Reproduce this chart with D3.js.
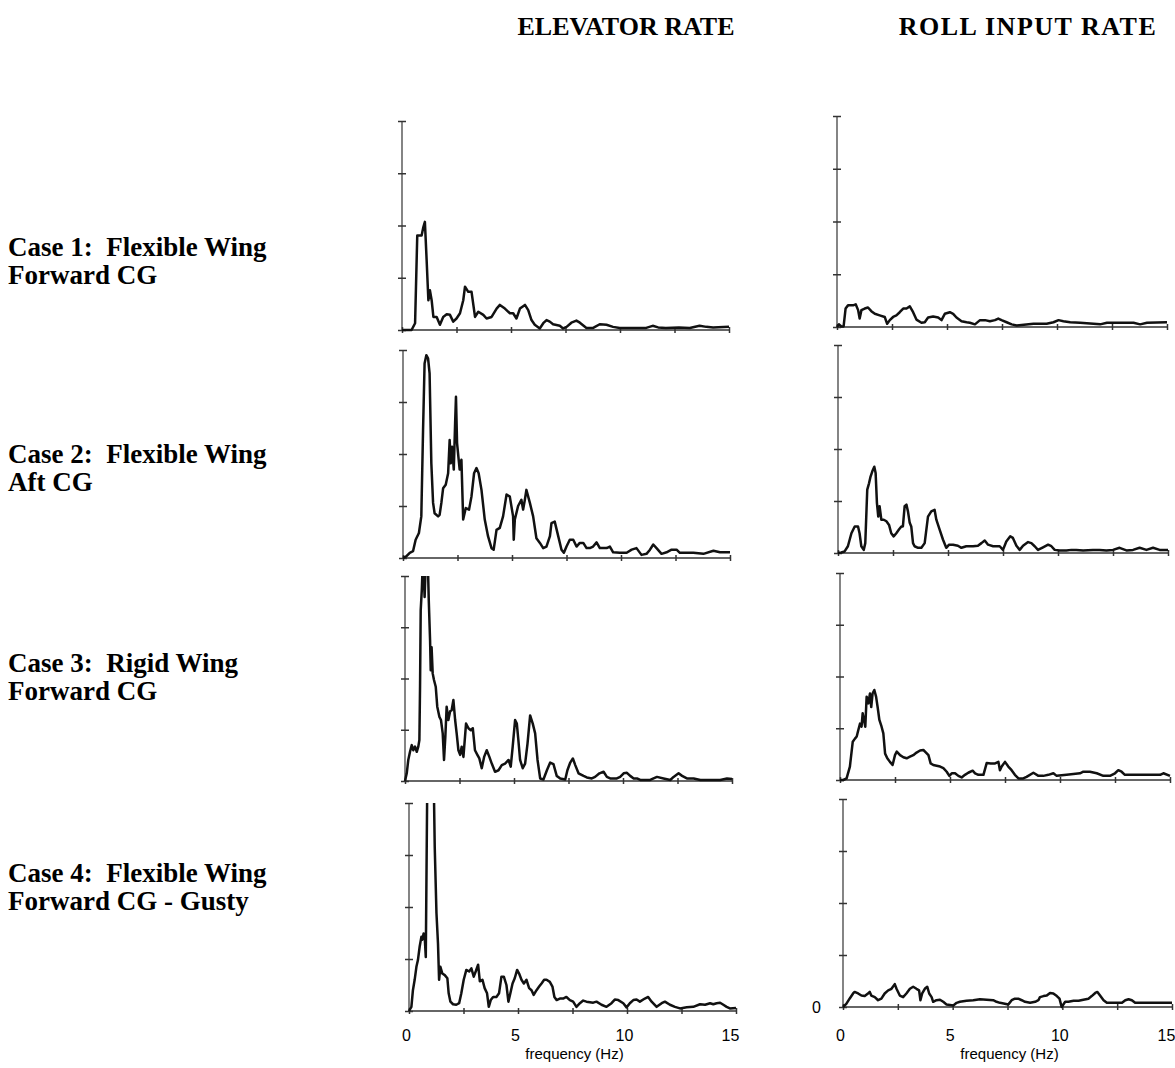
<!DOCTYPE html>
<html>
<head>
<meta charset="utf-8">
<script src="https://cdn.jsdelivr.net/npm/d3@7/dist/d3.min.js"></script>
<style>
  body { margin: 0; background: #fff; }
  .title { font-family: "Liberation Serif", "Times New Roman", serif; font-weight: bold; }
  .axis path, .axis line { stroke: #333; }
  .axis text { font-family: "Liberation Sans", Arial, sans-serif; fill: #000; }
</style>
</head>
<body>
<svg id="chart" width="1175" height="1068"></svg>
<script>
// x ticks (Hz) and y levels (arbitrary units, 4 divisions)
var freqTicks = [0, 2.5, 5, 7.5, 10, 12.5, 15];
var freqLabels = [0, 5, 10, 15];
var levelTicks = [0, 1, 2, 3, 4];
var columnTitles = ["ELEVATOR RATE", "ROLL INPUT RATE"];
var caseLabels = [
  ["Case 1:  Flexible Wing", "Forward CG"],
  ["Case 2:  Flexible Wing", "Aft CG"],
  ["Case 3:  Rigid Wing", "Forward CG"],
  ["Case 4:  Flexible Wing", "Forward CG - Gusty"]
];

// spectra: [frequency Hz, level]
var case1Elevator = [[0,0],[0.44,0],[0.6,0.13],[0.7,1.81],[0.9,1.81],[0.98,1.97],[1.05,2.07],[1.13,1.34],[1.21,0.57],[1.28,0.76],[1.36,0.57],[1.44,0.25],[1.59,0.25],[1.74,0.1],[1.89,0.25],[2.05,0.3],[2.2,0.29],[2.35,0.16],[2.5,0.22],[2.66,0.32],[2.81,0.57],[2.89,0.83],[3.04,0.73],[3.19,0.73],[3.35,0.25],[3.5,0.35],[3.73,0.29],[3.88,0.22],[4.11,0.25],[4.34,0.41],[4.49,0.48],[4.72,0.41],[4.95,0.32],[5.1,0.32],[5.25,0.22],[5.41,0.41],[5.64,0.48],[5.79,0.38],[5.94,0.19],[6.09,0.1],[6.32,0.03],[6.48,0.13],[6.63,0.19],[6.78,0.16],[6.93,0.11],[7.24,0.08],[7.39,0.03],[7.55,0.06],[7.77,0.14],[8.0,0.18],[8.16,0.14],[8.46,0.04],[8.77,0.04],[9.07,0.11],[9.38,0.1],[9.68,0.06],[9.99,0.04],[11.2,0.04],[11.5,0.08],[11.75,0.05],[12.1,0.04],[12.7,0.05],[13.2,0.04],[13.65,0.08],[13.96,0.06],[14.27,0.05],[15,0.06]];
var case1Roll = [[0,0],[0.09,0.05],[0.2,0.01],[0.3,0.01],[0.39,0.35],[0.5,0.41],[0.73,0.41],[0.85,0.43],[0.96,0.32],[1.03,0.16],[1.11,0.32],[1.26,0.35],[1.41,0.37],[1.56,0.3],[1.72,0.25],[1.94,0.22],[2.17,0.19],[2.28,0.06],[2.4,0.13],[2.55,0.19],[2.7,0.22],[2.85,0.28],[3.01,0.35],[3.16,0.35],[3.31,0.39],[3.46,0.28],[3.61,0.14],[3.84,0.08],[3.99,0.09],[4.14,0.18],[4.37,0.2],[4.6,0.18],[4.75,0.13],[4.9,0.25],[5.13,0.28],[5.28,0.25],[5.43,0.18],[5.66,0.11],[5.89,0.09],[6.04,0.08],[6.27,0.05],[6.5,0.13],[6.73,0.13],[6.95,0.11],[7.18,0.13],[7.33,0.16],[7.48,0.13],[7.71,0.09],[7.94,0.05],[8.17,0.03],[8.93,0.06],[9.53,0.06],[9.84,0.09],[10.07,0.13],[10.29,0.11],[10.6,0.09],[11.05,0.08],[11.96,0.05],[12.27,0.08],[12.87,0.08],[13.48,0.08],[13.78,0.05],[14.09,0.08],[15,0.09]];
var case2Elevator = [[0,0],[0.15,0.03],[0.31,0.1],[0.46,0.13],[0.58,0.35],[0.73,0.48],[0.84,0.8],[0.92,2.46],[0.99,3.74],[1.07,3.9],[1.15,3.84],[1.22,3.55],[1.3,1.82],[1.38,1.06],[1.45,0.86],[1.61,0.8],[1.68,0.83],[1.76,1.06],[1.84,1.34],[1.96,1.41],[2.07,1.63],[2.14,2.27],[2.19,1.82],[2.25,2.14],[2.33,1.7],[2.39,2.59],[2.43,3.1],[2.48,2.21],[2.54,1.95],[2.6,1.7],[2.68,1.89],[2.76,0.74],[2.88,0.96],[3.03,0.93],[3.14,1.18],[3.26,1.63],[3.37,1.73],[3.47,1.63],[3.6,1.31],[3.75,0.74],[3.9,0.42],[4.06,0.19],[4.16,0.16],[4.29,0.54],[4.44,0.58],[4.59,0.8],[4.75,1.22],[4.9,1.18],[5.05,0.8],[5.08,0.35],[5.13,0.74],[5.28,1.0],[5.43,1.12],[5.51,0.93],[5.59,1.12],[5.66,1.31],[5.82,1.06],[5.97,0.8],[6.12,0.38],[6.28,0.29],[6.43,0.19],[6.58,0.22],[6.74,0.42],[6.81,0.67],[6.96,0.7],[7.12,0.42],[7.27,0.16],[7.38,0.1],[7.5,0.22],[7.65,0.35],[7.81,0.35],[7.96,0.22],[8.11,0.29],[8.27,0.29],[8.42,0.19],[8.57,0.19],[8.72,0.22],[8.88,0.3],[9.03,0.19],[9.34,0.19],[9.49,0.22],[9.64,0.11],[9.95,0.1],[10.26,0.1],[10.49,0.16],[10.71,0.19],[10.94,0.06],[11.17,0.08],[11.33,0.16],[11.48,0.26],[11.63,0.19],[11.86,0.08],[12.09,0.11],[12.32,0.16],[12.55,0.16],[12.7,0.1],[13.32,0.1],[13.78,0.08],[14.24,0.14],[14.54,0.11],[15,0.11]];
var case2Roll = [[0,0],[0.15,0.01],[0.3,0.03],[0.45,0.13],[0.61,0.38],[0.76,0.51],[0.91,0.51],[0.98,0.38],[1.06,0.13],[1.17,0.06],[1.24,0.19],[1.33,1.22],[1.41,1.34],[1.48,1.47],[1.56,1.57],[1.65,1.66],[1.71,1.54],[1.77,0.96],[1.83,0.7],[1.89,0.9],[1.97,0.64],[2.08,0.64],[2.2,0.61],[2.32,0.54],[2.42,0.38],[2.53,0.32],[2.65,0.38],[2.77,0.45],[2.88,0.51],[2.95,0.51],[3.03,0.9],[3.11,0.93],[3.18,0.8],[3.26,0.58],[3.33,0.51],[3.41,0.19],[3.48,0.13],[3.64,0.1],[3.79,0.1],[3.94,0.19],[4.09,0.7],[4.24,0.8],[4.39,0.83],[4.47,0.64],[4.62,0.45],[4.77,0.26],[4.92,0.1],[5.05,0.16],[5.23,0.16],[5.45,0.14],[5.61,0.1],[5.83,0.13],[6.14,0.13],[6.36,0.14],[6.52,0.19],[6.67,0.24],[6.82,0.16],[7.05,0.13],[7.35,0.13],[7.5,0.06],[7.65,0.22],[7.83,0.32],[7.95,0.29],[8.11,0.14],[8.26,0.06],[8.41,0.14],[8.64,0.21],[8.79,0.19],[8.94,0.13],[9.09,0.06],[9.32,0.11],[9.55,0.16],[9.7,0.13],[9.85,0.06],[10.08,0.05],[10.38,0.05],[10.61,0.06],[10.83,0.06],[11.14,0.05],[11.59,0.06],[11.89,0.06],[12.2,0.05],[12.5,0.06],[12.8,0.1],[13.11,0.05],[13.41,0.06],[13.71,0.1],[14.02,0.06],[14.32,0.1],[14.62,0.06],[15,0.06]];
var case3Elevator = [[0,0],[0.08,0.15],[0.15,0.41],[0.23,0.57],[0.31,0.7],[0.38,0.6],[0.46,0.67],[0.54,0.57],[0.61,0.67],[0.66,0.8],[0.69,1.84],[0.72,3.33],[0.77,3.72],[0.81,4.2],[0.87,3.92],[0.9,3.59],[0.95,4.2],[0.99,4.4],[1.04,4.4],[1.09,3.53],[1.15,2.75],[1.18,2.16],[1.22,2.61],[1.27,2.1],[1.33,1.97],[1.41,1.84],[1.48,1.45],[1.58,1.25],[1.65,1.19],[1.73,0.93],[1.79,0.41],[1.85,0.86],[1.91,1.45],[1.99,1.19],[2.07,1.36],[2.14,1.38],[2.22,1.58],[2.3,1.19],[2.37,0.93],[2.45,0.6],[2.53,0.51],[2.6,0.67],[2.68,0.47],[2.8,1.12],[2.91,1.03],[3.02,0.99],[3.11,1.03],[3.21,0.6],[3.32,0.51],[3.41,0.44],[3.52,0.25],[3.63,0.47],[3.75,0.6],[3.87,0.47],[3.98,0.34],[4.13,0.18],[4.29,0.21],[4.44,0.31],[4.59,0.34],[4.75,0.41],[4.85,0.28],[4.94,0.67],[5.05,1.19],[5.13,1.12],[5.2,0.8],[5.28,0.41],[5.4,0.25],[5.51,0.34],[5.62,0.73],[5.74,1.28],[5.86,1.12],[5.97,0.93],[6.08,0.41],[6.2,0.05],[6.35,0.03],[6.51,0.21],[6.66,0.36],[6.81,0.33],[6.96,0.1],[7.12,0.05],[7.35,0.03],[7.45,0.21],[7.58,0.36],[7.7,0.44],[7.81,0.31],[7.96,0.15],[8.19,0.1],[8.34,0.07],[8.57,0.05],[8.72,0.08],[8.92,0.15],[9.11,0.18],[9.26,0.08],[9.41,0.05],[9.72,0.05],[9.87,0.08],[10.03,0.15],[10.18,0.16],[10.33,0.1],[10.49,0.05],[10.64,0.05],[10.79,0.02],[11.25,0.02],[11.4,0.05],[11.56,0.08],[11.86,0.05],[12.17,0.02],[12.32,0.08],[12.55,0.15],[12.71,0.1],[12.93,0.05],[13.24,0.05],[13.55,0.02],[14.46,0.02],[14.77,0.05],[15,0.04]];
var case3Roll = [[0,0],[0.15,0],[0.3,0.03],[0.45,0.26],[0.58,0.74],[0.68,0.8],[0.76,0.84],[0.83,0.96],[0.91,1.09],[0.98,1.03],[1.03,1.29],[1.09,1.16],[1.15,1.03],[1.21,1.61],[1.29,1.48],[1.36,1.67],[1.42,1.41],[1.48,1.67],[1.56,1.74],[1.64,1.61],[1.71,1.41],[1.79,1.16],[1.89,1.03],[1.97,0.9],[2.05,0.51],[2.15,0.42],[2.27,0.35],[2.39,0.29],[2.5,0.48],[2.58,0.55],[2.73,0.48],[2.88,0.44],[3.03,0.42],[3.18,0.45],[3.33,0.48],[3.48,0.53],[3.64,0.57],[3.79,0.58],[3.91,0.53],[4.02,0.48],[4.12,0.32],[4.24,0.29],[4.55,0.26],[4.7,0.23],[4.85,0.16],[4.97,0.08],[5.08,0.13],[5.23,0.13],[5.38,0.08],[5.53,0.05],[5.68,0.1],[5.83,0.14],[6.03,0.18],[6.14,0.13],[6.29,0.1],[6.52,0.1],[6.67,0.33],[6.85,0.32],[7.05,0.32],[7.2,0.35],[7.27,0.19],[7.35,0.26],[7.5,0.35],[7.65,0.26],[7.8,0.19],[7.95,0.1],[8.11,0.03],[8.33,0.03],[8.48,0.06],[8.79,0.14],[9.02,0.08],[9.24,0.08],[9.47,0.1],[9.7,0.13],[9.85,0.08],[10.3,0.1],[10.91,0.13],[11.06,0.16],[11.36,0.16],[11.67,0.13],[11.97,0.08],[12.27,0.08],[12.5,0.13],[12.65,0.19],[12.8,0.16],[12.95,0.1],[13.33,0.1],[14.55,0.1],[14.7,0.13],[15,0.08]];
var case4Elevator = [[0,0],[0.11,0.08],[0.18,0.4],[0.26,0.6],[0.34,0.85],[0.41,0.98],[0.49,1.24],[0.57,1.43],[0.61,1.37],[0.67,1.49],[0.72,1.43],[0.77,1.04],[0.8,2.52],[0.83,4.0],[0.87,6.0],[0.95,8.0],[1.03,8.5],[1.1,6.5],[1.15,4.0],[1.18,3.16],[1.26,1.88],[1.33,1.3],[1.38,0.6],[1.44,0.85],[1.53,0.72],[1.64,0.69],[1.76,0.63],[1.82,0.34],[1.9,0.18],[2.02,0.13],[2.17,0.12],[2.3,0.15],[2.4,0.34],[2.51,0.6],[2.63,0.79],[2.76,0.76],[2.86,0.82],[2.97,0.66],[3.06,0.76],[3.17,0.89],[3.25,0.57],[3.37,0.6],[3.47,0.44],[3.58,0.34],[3.66,0.08],[3.75,0.21],[3.86,0.27],[4.01,0.27],[4.13,0.34],[4.24,0.66],[4.35,0.66],[4.47,0.5],[4.56,0.18],[4.65,0.34],[4.75,0.53],[4.85,0.63],[4.96,0.79],[5.05,0.72],[5.16,0.6],[5.27,0.53],[5.39,0.6],[5.51,0.44],[5.62,0.4],[5.72,0.31],[5.85,0.4],[5.97,0.47],[6.08,0.53],[6.2,0.6],[6.31,0.6],[6.46,0.56],[6.58,0.47],[6.67,0.27],[6.77,0.21],[6.92,0.24],[7.07,0.24],[7.22,0.27],[7.38,0.21],[7.53,0.18],[7.68,0.08],[7.84,0.15],[7.99,0.2],[8.14,0.18],[8.45,0.16],[8.6,0.18],[8.83,0.12],[9.06,0.08],[9.29,0.15],[9.44,0.22],[9.6,0.21],[9.83,0.15],[9.98,0.07],[10.13,0.15],[10.29,0.21],[10.44,0.22],[10.59,0.18],[10.82,0.24],[10.97,0.27],[11.13,0.18],[11.36,0.08],[11.59,0.15],[11.74,0.18],[11.97,0.12],[12.2,0.08],[12.43,0.05],[12.74,0.07],[13.04,0.08],[13.35,0.13],[13.58,0.12],[13.81,0.15],[13.96,0.13],[14.11,0.15],[14.27,0.16],[14.42,0.12],[14.57,0.08],[14.72,0.05],[15,0.06]];
var case4Roll = [[0,0],[0.15,0.06],[0.3,0.16],[0.46,0.26],[0.53,0.29],[0.69,0.26],[0.84,0.22],[0.99,0.21],[1.14,0.26],[1.22,0.29],[1.29,0.22],[1.45,0.19],[1.6,0.13],[1.75,0.16],[1.9,0.26],[2.06,0.32],[2.21,0.35],[2.36,0.44],[2.44,0.35],[2.59,0.22],[2.74,0.19],[2.89,0.26],[3.05,0.35],[3.2,0.39],[3.35,0.35],[3.47,0.32],[3.53,0.13],[3.61,0.26],[3.73,0.35],[3.84,0.39],[3.93,0.26],[4.04,0.19],[4.11,0.1],[4.26,0.13],[4.42,0.14],[4.57,0.1],[4.72,0.05],[5.03,0.03],[5.18,0.08],[5.33,0.1],[5.63,0.12],[5.94,0.13],[6.24,0.15],[6.55,0.14],[6.85,0.13],[7.0,0.1],[7.16,0.08],[7.54,0.05],[7.69,0.13],[7.84,0.16],[7.99,0.16],[8.15,0.13],[8.3,0.1],[8.53,0.08],[8.76,0.1],[8.91,0.13],[8.98,0.19],[9.14,0.21],[9.29,0.22],[9.44,0.27],[9.59,0.26],[9.75,0.21],[9.87,0.16],[9.97,0.0],[10.13,0.1],[10.28,0.1],[10.51,0.12],[10.74,0.12],[10.96,0.14],[11.19,0.16],[11.34,0.21],[11.5,0.27],[11.6,0.29],[11.72,0.22],[11.88,0.13],[12.03,0.08],[12.49,0.08],[12.72,0.08],[12.87,0.13],[13.02,0.15],[13.17,0.13],[13.32,0.08],[15,0.08]];

var series = [
  [case1Elevator, case1Roll],
  [case2Elevator, case2Roll],
  [case3Elevator, case3Roll],
  [case4Elevator, case4Roll]
];

// panel boxes as they sit on the page (the scan is a little skewed)
var boxes = [
  [{x0: 402, x1: 729, y0: 121, y1: 330}, {x0: 837, x1: 1167, y0: 116, y1: 327}],
  [{x0: 403, x1: 730, y0: 350, y1: 558}, {x0: 838, x1: 1168, y0: 345, y1: 553}],
  [{x0: 405, x1: 732, y0: 576, y1: 781}, {x0: 840, x1: 1170, y0: 573, y1: 780}],
  [{x0: 409, x1: 736, y0: 803, y1: 1011}, {x0: 843, x1: 1172, y0: 799, y1: 1007}]
];
var labelBaselines = [256, 463, 672, 882];

var svg = d3.select('#chart');

// column titles
var titleX = [626, 1028];
var titleSpacing = [0, 1.5];
columnTitles.forEach(function(t, i) {
  svg.append('text')
    .attr('class', 'title')
    .attr('x', titleX[i])
    .attr('y', 35)
    .attr('text-anchor', 'middle')
    .style('font-size', '26px')
    .style('letter-spacing', titleSpacing[i] + 'px')
    .text(t);
});

// case labels
caseLabels.forEach(function(lines, r) {
  var t = svg.append('text')
    .attr('class', 'title')
    .style('font-size', '27px')
    .style('white-space', 'pre');
  lines.forEach(function(s, k) {
    t.append('tspan')
      .attr('x', 8)
      .attr('y', labelBaselines[r] + k * 28)
      .text(s);
  });
});

var line = d3.line().curve(d3.curveLinear);

series.forEach(function(rowData, r) {
  rowData.forEach(function(data, c) {
    var b = boxes[r][c];
    var w = b.x1 - b.x0, h = b.y1 - b.y0;
    var x = d3.scaleLinear().domain([0, 15]).range([0, w]);
    var y = d3.scaleLinear().domain([0, 4]).range([h, 0]);
    var g = svg.append('g').attr('transform', 'translate(' + b.x0 + ',' + b.y0 + ')');
    var bottomRow = r === series.length - 1;

    var xAxis = d3.axisBottom(x)
      .tickValues(freqTicks)
      .tickSize(4)
      .tickFormat(function(d) {
        return bottomRow && freqLabels.indexOf(d) >= 0 ? d : '';
      });
    var xg = g.append('g').attr('class', 'axis')
      .attr('transform', 'translate(0,' + h + ')')
      .call(xAxis);
    xg.select('.domain').attr('d', 'M0,0H' + w).attr('stroke-width', 1.3);
    xg.selectAll('.tick line').attr('y1', -3).attr('y2', 3).attr('stroke-width', 1.5);
    xg.selectAll('.tick text')
      .attr('y', 1042 - b.y1 - 12)
      .attr('dx', function(d) { return d === 15 ? '-6px' : '-3px'; })
      .style('font-size', '16px');

    var yAxis = d3.axisLeft(y)
      .tickValues(levelTicks)
      .tickSize(4)
      .tickFormat(function(d) { return bottomRow && c === 1 && d === 0 ? '0' : ''; });
    var yg = g.append('g').attr('class', 'axis').call(yAxis);
    yg.select('.domain').attr('d', 'M0,0V' + h).attr('stroke-width', 1.2);
    yg.selectAll('.tick line').attr('x1', -4).attr('x2', 4).attr('stroke-width', 1.5);
    yg.selectAll('.tick text').attr('x', -22).style('font-size', '16px');

    if (bottomRow) {
      g.append('text')
        .attr('x', w / 2 + 2)
        .attr('y', 1059 - b.y0)
        .attr('text-anchor', 'middle')
        .style('font-family', '"Liberation Sans", Arial, sans-serif')
        .style('font-size', '15px')
        .text('frequency (Hz)');
    }

    var clipId = 'clip' + r + c;
    g.append('clipPath').attr('id', clipId)
      .append('rect').attr('x', -3).attr('y', 0).attr('width', w + 6).attr('height', h + 4);

    g.append('path')
      .datum(data)
      .attr('clip-path', 'url(#' + clipId + ')')
      .attr('fill', 'none')
      .attr('stroke', '#111')
      .attr('stroke-width', 2.5)
      .attr('stroke-linejoin', 'round')
      .attr('d', line.x(function(d) { return x(d[0]); }).y(function(d) { return y(d[1]); }));
  });
});
</script>
</body>
</html>
